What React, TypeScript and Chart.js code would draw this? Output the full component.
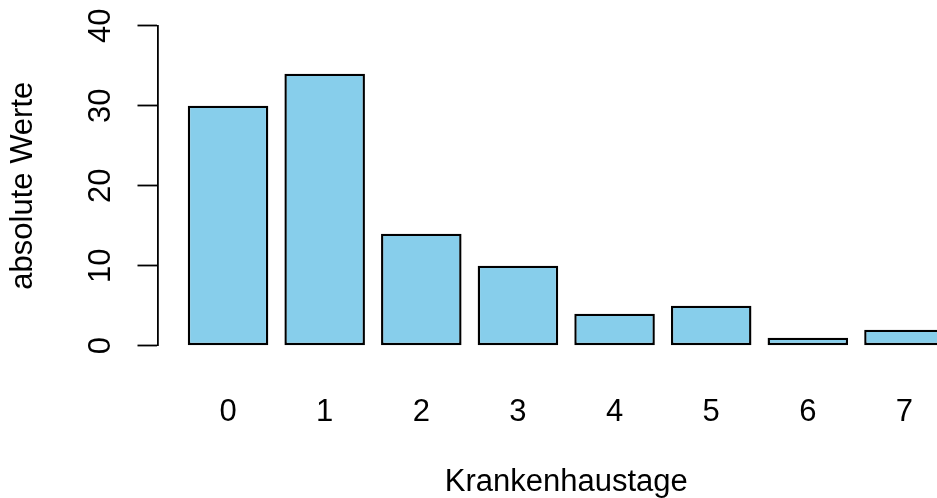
import React, { useEffect, useRef } from "react";
import { Chart, registerables } from "chart.js";

Chart.register(...registerables);

// ---- data ----
const days = [0, 1, 2, 3, 4, 5, 6, 7];
const dayLabels = ["0", "1", "2", "3", "4", "5", "6", "7"];
const counts = [30, 34, 14, 10, 4, 5, 1, 2];
const yTicks = [0, 10, 20, 30, 40];
const yTickLabels = ["0", "10", "20", "30", "40"];
const xTitle = "Krankenhaustage";
const yTitle = "absolute Werte";

export default function App() {
  const ref = useRef<HTMLCanvasElement>(null);

  useEffect(() => {
    const canvas = ref.current;
    if (!canvas) return;
    const family = "'Liberation Sans', Arial, Helvetica, sans-serif";
    const font = { family, size: 31, lineHeight: 1.2 };
    const xTitleFont = { family, size: 31, lineHeight: 1.0 };
    const chart = new Chart(canvas, {
      type: "bar",
      data: {
        datasets: [
          {
            data: days.map((d, i) => ({ x: d, y: counts[i] })),
            backgroundColor: "#87CEEB",
            borderColor: "#000000",
            borderWidth: 2.4,
            borderSkipped: false,
            categoryPercentage: 1,
            barPercentage: 1 / 1.2,
          } as any,
        ],
      },
      options: {
        animation: false,
        responsive: false,
        devicePixelRatio: 1,
        events: [],
        layout: { padding: { top: 25.7, right: 25, bottom: 0, left: 0 } },
        plugins: {
          legend: { display: false },
          tooltip: { enabled: false },
          title: { display: false },
        },
        scales: {
          x: {
            type: "linear",
            min: -0.73,
            max: 7.73,
            bounds: "data",
            offset: false,
            grid: { display: false },
            border: { display: false },
            ticks: {
              font,
              color: "#000000",
              padding: 40,
              autoSkip: false,
              maxRotation: 0,
              includeBounds: false,
              callback: (v: any) => {
                const i = days.indexOf(Number(v));
                return i >= 0 ? dayLabels[i] : "";
              },
            },
            afterBuildTicks: (s: any) => {
              s.ticks = days.map((v) => ({ value: v }));
            },
            afterFit: (s: any) => {
              s.height = 152.3;
              s.paddingLeft = 0;
              s.paddingRight = 0;
            },
            title: {
              display: true,
              text: xTitle,
              font: xTitleFont,
              color: "#000000",
              padding: { top: 0, bottom: 0 },
            },
          } as any,
          y: {
            type: "linear",
            min: 0,
            max: 40,
            grid: {
              drawOnChartArea: false,
              drawTicks: true,
              tickLength: 20,
              tickColor: "#000000",
              tickWidth: 1.8,
            },
            border: { display: true, color: "#000000", width: 1.8 },
            ticks: {
              font,
              color: "#000000",
              padding: 19,
              minRotation: 90,
              maxRotation: 90,
              crossAlign: "center",
              callback: (v: any) => {
                const i = yTicks.indexOf(Number(v));
                return i >= 0 ? yTickLabels[i] : "";
              },
            },
            afterBuildTicks: (s: any) => {
              s.ticks = yTicks.map((v) => ({ value: v }));
            },
            afterFit: (s: any) => {
              s.width = 157.5;
              s.paddingTop = 0;
              s.paddingBottom = 0;
            },
            title: {
              display: true,
              text: yTitle,
              font,
              color: "#000000",
              padding: { top: 4.7, bottom: 0 },
            },
          } as any,
        },
      },
    });
    return () => chart.destroy();
  }, []);

  return (
    <div
      style={{
        position: "fixed",
        left: 0,
        top: 0,
        width: 937,
        height: 498,
        overflow: "hidden",
        background: "#ffffff",
      }}
    >
      <canvas
        ref={ref}
        width={1000}
        height={498}
        style={{ display: "block", width: 1000, height: 498 }}
      />
    </div>
  );
}
